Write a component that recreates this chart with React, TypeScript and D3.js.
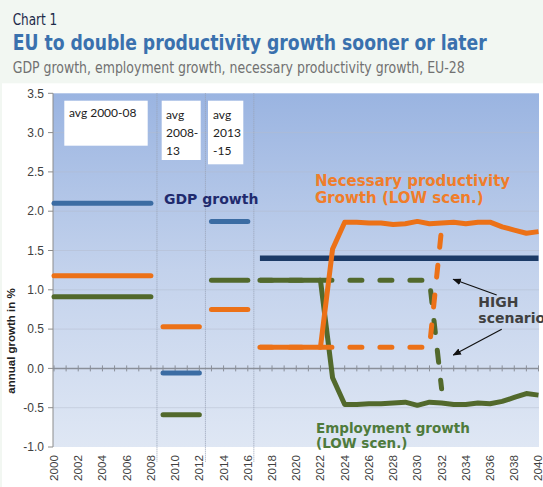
import React from "react";
import * as d3 from "d3";

// ---- data ----
const avgPeriods: [number, number][] = [[2000, 2008], [2009, 2012], [2013, 2016]];
const gdpAvg = [2.10, -0.06, 1.87];
const empAvg = [0.91, -0.59, 1.12];
const prodAvg = [1.18, 0.53, 0.75];

const projYears = [2017, 2018, 2019, 2020, 2021, 2022, 2023, 2024, 2025, 2026, 2027, 2028, 2029, 2030, 2031, 2032, 2033, 2034, 2035, 2036, 2037, 2038, 2039, 2040];
const gdpProj = [1.40, 1.40, 1.40, 1.40, 1.40, 1.40, 1.40, 1.40, 1.40, 1.40, 1.40, 1.40, 1.40, 1.40, 1.40, 1.40, 1.40, 1.40, 1.40, 1.40, 1.40, 1.40, 1.40, 1.40];
const empLow = [1.12, 1.12, 1.12, 1.12, 1.12, 1.12, -0.12, -0.46, -0.46, -0.45, -0.45, -0.44, -0.43, -0.47, -0.43, -0.44, -0.46, -0.46, -0.44, -0.45, -0.42, -0.37, -0.32, -0.34];
const prodLow = [0.27, 0.27, 0.27, 0.27, 0.27, 0.27, 1.52, 1.86, 1.86, 1.85, 1.85, 1.83, 1.84, 1.87, 1.84, 1.85, 1.86, 1.84, 1.86, 1.86, 1.80, 1.76, 1.72, 1.74];
const highYears = [2017, 2018, 2019, 2020, 2021, 2022, 2023, 2024, 2025, 2026, 2027, 2028, 2029, 2030, 2031, 2032];
const empHigh = [1.12, 1.12, 1.12, 1.12, 1.12, 1.12, 1.12, 1.12, 1.12, 1.12, 1.12, 1.12, 1.12, 1.12, 1.12, -0.26];
const prodHigh = [0.27, 0.27, 0.27, 0.27, 0.27, 0.27, 0.27, 0.27, 0.27, 0.27, 0.27, 0.27, 0.27, 0.27, 0.27, 1.78];

const yTicks = [-1.0, -0.5, 0.0, 0.5, 1.0, 1.5, 2.0, 2.5, 3.0, 3.5];
const xLabelYears = [2000, 2002, 2004, 2006, 2008, 2010, 2012, 2014, 2016, 2018, 2020, 2022, 2024, 2026, 2028, 2030, 2032, 2034, 2036, 2038, 2040];
const tickYears = d3.range(2000, 2041);
const dividers = [2008.5, 2012.5, 2016.5];

const C = {
  gdpAvg: "#3b6ca3",
  gdpProj: "#1b3a66",
  emp: "#52692c",
  prod: "#ec7117",
};

export default function App() {
  const W = 543, H = 487;
  const pl = 53, pr = 539, pt = 93.3, pb = 447;
  const x = d3.scaleLinear().domain([2000, 2040]).range([54, 538.5]);
  const y = d3.scaleLinear().domain([-1, 3.5]).range([pb, pt]);
  const line = d3.line<[number, number]>().x(d => x(d[0])).y(d => y(d[1]));
  const zip = (xs: number[], vs: number[]) => xs.map((t, i) => [t, vs[i]] as [number, number]);

  const seg = (p: [number, number], v: number, color: string, key: string) => (
    <line key={key} x1={x(p[0])} x2={x(p[1])} y1={y(v)} y2={y(v)} stroke={color} strokeWidth={5} strokeLinecap="round" />
  );

  const verdana = "'DejaVu Sans', Verdana, sans-serif";
  const arial = "'Liberation Sans', Arial, sans-serif";

  return (
    <div style={{ position: "fixed", left: 0, top: 0 }}>
      <svg width={W} height={H} style={{ display: "block" }}>
        <defs>
          <linearGradient id="bg" x1="0" y1="0" x2="0" y2="1">
            <stop offset="0" stopColor="#9ab4e1" />
            <stop offset="0.5" stopColor="#c3d2ec" />
            <stop offset="1" stopColor="#dfe7f4" />
          </linearGradient>
          <marker id="arr" viewBox="0 0 10 10" refX="9" refY="5" markerWidth="7" markerHeight="7" orient="auto-start-reverse">
            <path d="M0,1 L10,5 L0,9 z" fill="#111" />
          </marker>
        </defs>
        <rect x={0} y={0} width={W} height={H} fill="#f2f7f2" />
        <rect x={2} y={83.3} width={W - 2} height={H - 83.3} fill="#ffffff" />

        {/* header */}
        <text x={12.7} y={24.5} fontFamily="'DejaVu Sans Condensed', 'DejaVu Sans', sans-serif" fontSize={15.5} fill="#1d2a4a" textLength={44.6} lengthAdjust="spacingAndGlyphs">Chart 1</text>
        <text x={12.7} y={50} fontFamily="'DejaVu Sans Condensed', 'DejaVu Sans', sans-serif" fontWeight="bold" fontSize={22} fill="#3a71ae" textLength={474} lengthAdjust="spacingAndGlyphs">EU to double productivity growth sooner or later</text>
        <text x={12.7} y={72.5} fontFamily="'DejaVu Sans Condensed', 'DejaVu Sans', sans-serif" fontSize={15} fill="#717171" textLength={452} lengthAdjust="spacingAndGlyphs">GDP growth, employment growth, necessary productivity growth, EU-28</text>

        {/* plot area */}
        <rect x={pl} y={pt} width={pr - pl} height={pb - pt} fill="url(#bg)" />
        {yTicks.filter(v => v !== 0 && v !== -1 && v !== 3.5).map(v => (
          <line key={"g" + v} x1={pl} x2={pr} y1={y(v)} y2={y(v)} stroke="#b4bccd" strokeWidth={0.8} opacity={0.6} />
        ))}
        {dividers.map(d => (
          <line key={"d" + d} x1={x(d)} x2={x(d)} y1={pt} y2={462} stroke="#98a2b6" strokeWidth={1} strokeDasharray="1,1" />
        ))}

        {/* boxes */}
        <rect x={64.3} y={100.7} width={83.4} height={45} fill="#fff" />
        <text x={69} y={117} fontFamily="Lato, sans-serif" fontSize={12} fill="#222">avg 2000-08</text>
        <rect x={161.7} y={100.7} width={39} height={59.3} fill="#fff" />
        {["avg", "2008-", "13"].map((t, i) => (
          <text key={"b2" + i} x={166} y={119 + i * 18} fontFamily="Lato, sans-serif" fontSize={12} fill="#222">{t}</text>
        ))}
        <rect x={208} y={100.7} width={35.3} height={63.6} fill="#fff" />
        {["avg", "2013", "-15"].map((t, i) => (
          <text key={"b3" + i} x={213} y={119 + i * 18} fontFamily="Lato, sans-serif" fontSize={12} fill="#222">{t}</text>
        ))}

        {/* axes */}
        <line x1={pl} x2={pl} y1={pt} y2={pb} stroke="#8c8c8c" strokeWidth={1} />
        {yTicks.map(v => (
          <g key={"yt" + v}>
            <line x1={pl - 5} x2={pl} y1={y(v)} y2={y(v)} stroke="#8c8c8c" strokeWidth={1} />
            <text x={44} y={y(v)} dy="0.35em" textAnchor="end" fontFamily={arial} fontSize={12} fill="#404040">{v.toFixed(1)}</text>
          </g>
        ))}
        <line x1={pl} x2={pr} y1={y(0)} y2={y(0)} stroke="#8a8f99" strokeWidth={1.5} />
        {tickYears.map(t => (
          <line key={"xt" + t} x1={x(t)} x2={x(t)} y1={y(0) - 3} y2={y(0) + 3} stroke="#8a8f99" strokeWidth={1} />
        ))}
        {xLabelYears.map(t => (
          <text key={"xl" + t} transform={`translate(${x(t)},455) rotate(-90)`} dy="0.36em" textAnchor="end" fontFamily={arial} fontSize={11} fill="#404040" textLength={26} lengthAdjust="spacingAndGlyphs">{t}</text>
        ))}
        <text transform="translate(15,341) rotate(-90)" textAnchor="middle" fontFamily={arial} fontWeight="bold" fontSize={11.5} fill="#222">annual growth in %</text>

        {/* average segments */}
        {avgPeriods.map((p, i) => seg(p, gdpAvg[i], C.gdpAvg, "ga" + i))}
        {avgPeriods.map((p, i) => seg(p, prodAvg[i], C.prod, "pa" + i))}
        {avgPeriods.map((p, i) => seg(p, empAvg[i], C.emp, "ea" + i))}

        {/* projections */}
        <path d={line(zip(projYears, gdpProj)) || ""} fill="none" stroke={C.gdpProj} strokeWidth={5.5} />
        <path d={line(zip(projYears, empLow)) || ""} fill="none" stroke={C.emp} strokeWidth={5} strokeLinejoin="round" />
        <path d={line(zip(highYears, empHigh)) || ""} fill="none" stroke={C.emp} strokeWidth={5} strokeDasharray="12,18" strokeLinecap="round" />
        <path d={line(zip(projYears, prodLow)) || ""} fill="none" stroke={C.prod} strokeWidth={5} strokeLinejoin="round" />
        <path d={line(zip(highYears, prodHigh)) || ""} fill="none" stroke={C.prod} strokeWidth={5} strokeDasharray="12,18" strokeLinecap="round" />

        {/* annotations */}
        <text x={164} y={204} fontFamily={verdana} fontWeight="bold" fontSize={14} fill="#1f2a6e">GDP growth</text>
        <text x={315} y={186} fontFamily={verdana} fontWeight="bold" fontSize={15} fill="#f07d2a">Necessary productivity</text>
        <text x={315} y={203.3} fontFamily={verdana} fontWeight="bold" fontSize={15} fill="#f07d2a">Growth (LOW scen.)</text>
        <text x={478.3} y={306.7} fontFamily={verdana} fontWeight="bold" fontSize={14} fill="#404040">HIGH</text>
        <text x={478.3} y={322.7} fontFamily={verdana} fontWeight="bold" fontSize={14} fill="#404040">scenario</text>
        <text x={316} y={432.7} fontFamily={verdana} fontWeight="bold" fontSize={13.5} fill="#4f7b3c">Employment growth</text>
        <text x={316} y={448.3} fontFamily={verdana} fontWeight="bold" fontSize={13.5} fill="#4f7b3c">(LOW scen.)</text>
        <line x1={496.7} y1={295} x2={453.3} y2={279.3} stroke="#111" strokeWidth={1.2} markerEnd="url(#arr)" />
        <line x1={501.7} y1={329.3} x2={453.3} y2={355} stroke="#111" strokeWidth={1.2} markerEnd="url(#arr)" />
      </svg>
    </div>
  );
}
